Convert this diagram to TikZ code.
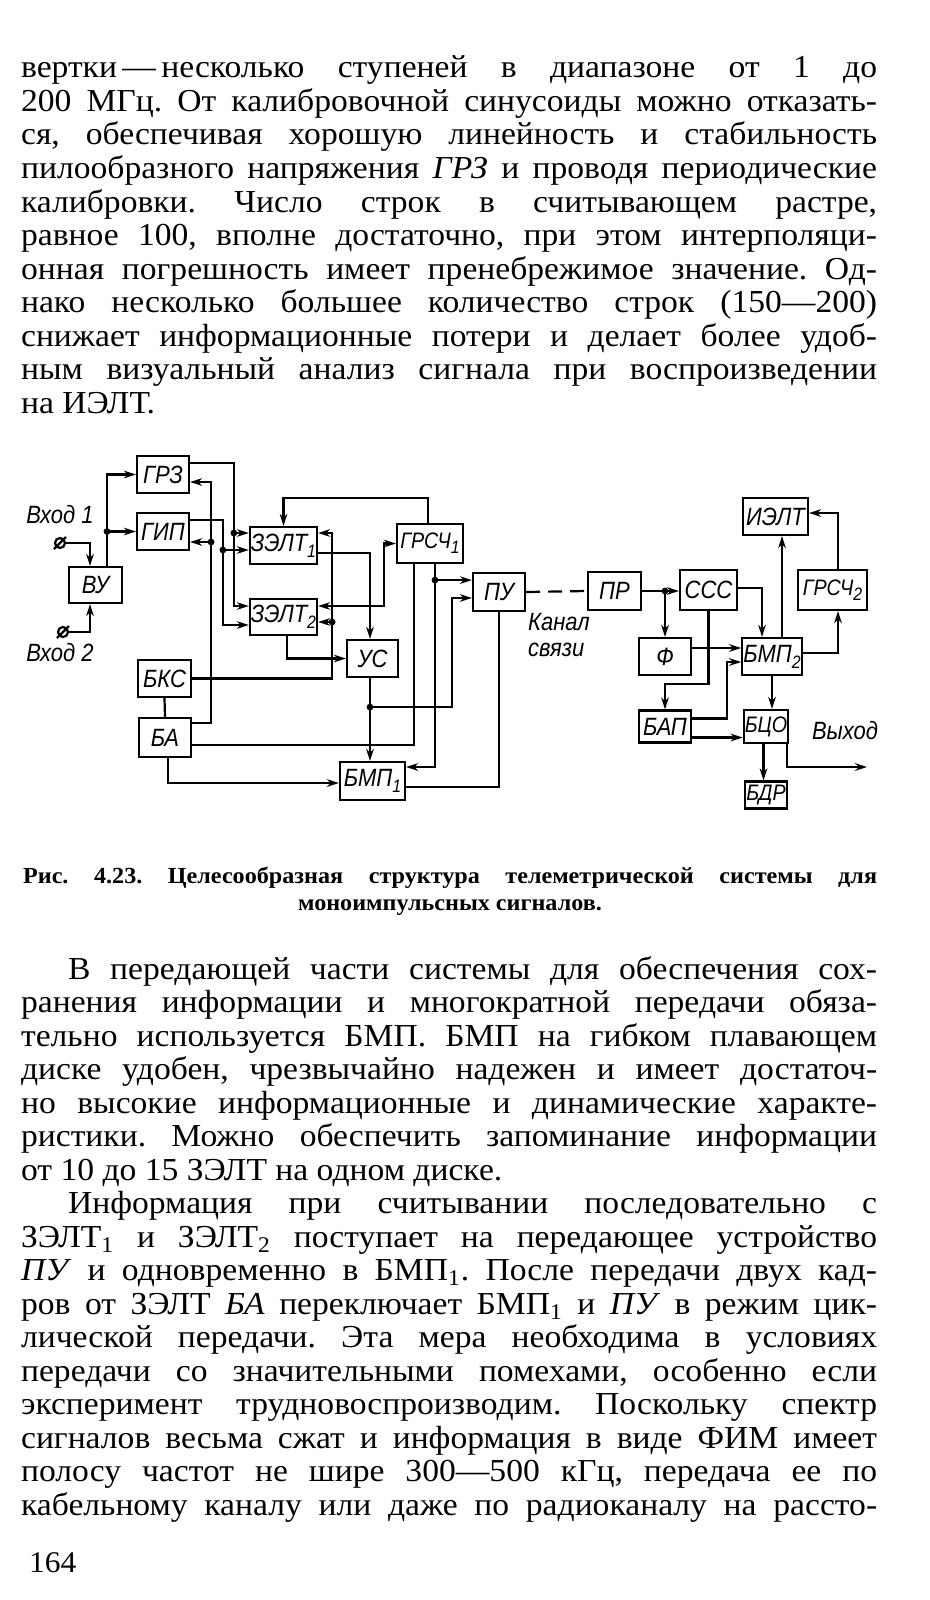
\documentclass[tikz,border=0pt]{standalone}
\usepackage{fontspec}
\setmainfont{Liberation Serif}[FakeStretch=1.05]
\newfontfamily\dfont[FakeStretch=0.88]{Liberation Sans}
\usetikzlibrary{arrows.meta,calc}
\frenchspacing
\newcommand{\tline}[1]{\makebox[428pt][s]{#1}}
\newcommand{\lowsub}[1]{\raisebox{-0.45ex}{\fontsize{9}{9}\selectfont #1}}
\tikzset{
  blk/.style={
    draw,
    line width=1.1pt,
    inner sep=0.5pt,
    minimum width=26pt,
    minimum height=18.5pt,
    font=\dfont\itshape\fontsize{12.5}{13}\selectfont
  },
  narrow blk/.style={
    blk,
    font=\dfont\itshape\fontsize{11.2}{12}\selectfont
  },
  lbl/.style={
    inner sep=0pt,
    font=\dfont\itshape\fontsize{12.5}{13}\selectfont
  },
  term/.style={
    circle,
    draw,
    line width=1.1pt,
    inner sep=0pt,
    minimum size=5pt
  },
  txt/.style={
    anchor=base west,
    inner sep=0pt,
    font=\fontsize{16}{18}\selectfont
  },
  captxt/.style={
    anchor=base west,
    inner sep=0pt,
    font=\bfseries\fontsize{11.5}{14}\selectfont
  }
}

\begin{document}
\begin{tikzpicture}[x=0.5pt, y=-0.5pt, line width=1.1pt,
  >={Stealth[length=6pt,width=3.8pt]}]
   \fill[white] (0,0) rectangle (930,1600);
   \useasboundingbox (0,0) rectangle (930,1600);

   % text above the figure
   \node[txt] (a1) at (20,78) {\tline{вертки\,—\,несколько ступеней в диапазоне от 1 до}};
   \node[txt] (a2) at (20,111.5) {\tline{200 МГц. От калибровочной синусоиды можно отказать-}};
   \node[txt] (a3) at (20,145) {\tline{ся, обеспечивая хорошую линейность и стабильность}};
   \node[txt] (a4) at (20,178.5) {\tline{пилообразного напряжения \textit{ГРЗ} и проводя периодические}};
   \node[txt] (a5) at (20,212) {\tline{калибровки. Число строк в считывающем растре,}};
   \node[txt] (a6) at (20,245.5) {\tline{равное 100, вполне достаточно, при этом интерполяци-}};
   \node[txt] (a7) at (20,279) {\tline{онная погрешность имеет пренебрежимое значение. Од-}};
   \node[txt] (a8) at (20,312.5) {\tline{нако несколько большее количество строк (150—200)}};
   \node[txt] (a9) at (20,346) {\tline{снижает информационные потери и делает более удоб-}};
   \node[txt] (a10) at (20,379.5) {\tline{ным визуальный анализ сигнала при воспроизведении}};
   \node[txt] (a11) at (20,413) {на ИЭЛТ.};

   % transmitting part
   \node[term] (in1) at (60,543) {};
   \node[term] (in2) at (63,632) {};
   \node[lbl] (lin1) at (60,515) {Вход 1};
   \node[lbl] (lin2) at (60,653) {Вход 2};
   \node[blk] (grz) at (163,474.5) {ГРЗ};
   \node[blk] (gip) at (163,531.5) {ГИП};
   \node[blk, minimum width=26.5pt, minimum height=18pt] (vu) at (95.5,585) {ВУ};
   \node[blk, minimum width=33.5pt] (zelt1) at (283.5,545.5) {ЗЭЛТ\lowsub{1}};
   \node[blk, minimum width=33.5pt, minimum height=18pt] (zelt2) at (283.5,617) {ЗЭЛТ\lowsub{2}};
   \node[narrow blk, minimum width=33pt, minimum height=19.5pt] (grsch1) at (430,543.5) {ГРСЧ\lowsub{1}};
   \node[blk, minimum height=19pt] (pu) at (499,592) {ПУ};
   \node[blk, minimum width=25.5pt] (us) at (372.5,658.5) {УС};
   \node[blk, minimum width=26.5pt] (bks) at (164.5,678.5) {БКС};
   \node[blk, minimum height=19.5pt] (ba) at (165,737.5) {БА};
   \node[blk, minimum width=32.5pt, minimum height=19pt] (bmp1) at (372.5,781) {БМП\lowsub{1}};

   % receiving part
   \node[blk, minimum width=26.5pt, minimum height=19pt] (pr) at (614.5,591) {ПР};
   \node[blk, minimum width=28.5pt, minimum height=20pt] (sss) at (708.5,590) {ССС};
   \node[blk, minimum width=32.5pt] (ielt) at (775.5,516.5) {ИЭЛТ};
   \node[narrow blk, minimum width=34.5pt, minimum height=20pt] (grsch2) at (832.5,590) {ГРСЧ\lowsub{2}};
   \node[blk] (f) at (665,656.5) {Ф};
   \node[blk, minimum width=25pt] (bmp2) at (772,656.5) {БМП\lowsub{2}};
   \node[blk, minimum height=16pt] (bap) at (665,726.5) {БАП};
   \node[narrow blk, minimum width=17.5pt, minimum height=16.5pt] (bco) at (766,726.5) {БЦО};
   \node[narrow blk, minimum width=17.5pt, minimum height=13.5pt] (bdr) at (766,795) {БДР};
   \node[lbl, align=left, anchor=north west] (kanal) at (527,612) {Канал\\связи};
   \node[lbl] (lout) at (845,731) {Выход};
   \coordinate (out) at (867,767);

   \foreach \t in {in1,in2}
      \draw ([shift={(-3pt,-3pt)}]\t.center) -- ([shift={(3pt,3pt)}]\t.center);
   \draw[->] (in1.east) -| ([xshift=-2.75pt]vu.north);
   \draw[->] (in2.east) -| ([xshift=-2.75pt]vu.south);

   \coordinate (vuo) at ([xshift=5.75pt]vu.north);
   \coordinate (j1) at (vuo |- gip.west);
   \draw[->] (vuo) |- (grz.west);
   \draw[->] (j1) -- (gip.west);

   \coordinate (d2) at ([xshift=-7.5pt,yshift=6.25pt]zelt1.west);
   \draw[->] ([yshift=5.75pt]grz.east) -| (d2) |- ([yshift=5.5pt]zelt2.west);
   \draw[->] (d2) -- ([yshift=6.25pt]zelt1.west);
   \coordinate (d3) at ([xshift=-13pt,yshift=-2.25pt]zelt1.west);
   \draw[->] ([yshift=5.75pt]gip.east) -| (d3) |- ([yshift=-4pt]zelt2.west);
   \draw[->] (d3) -- ([yshift=-2.25pt]zelt1.west);

   \coordinate (d4) at ([xshift=10.5pt,yshift=-5.25pt]gip.east);
   \draw[->] ([yshift=7.25pt]ba.east) -| (d4) |- ([yshift=-3.75pt]grz.east);
   \draw[->] (d4) -- ([yshift=-5.25pt]gip.east);
   \draw (bks.south) -- (ba.north);

   \coordinate (d5) at ([xshift=7pt,yshift=-2.5pt]zelt2.east);
   \draw[->] (bks.east) -| (d5) |- ([yshift=6.25pt]zelt1.east);
   \draw[->] (d5) -- ([yshift=-2.5pt]zelt2.east);

   \draw[->] ([xshift=-1pt]grsch1.north) -- ++(0,12.5pt) -| (zelt1.north);
   \draw[<->] ([yshift=5.5pt]zelt2.east) -- ++(33pt,0) |- (grsch1.west);
   \draw[->] ([yshift=-3.75pt]zelt1.east) -| ([xshift=-1.25pt]us.north);
   \draw[->] ([xshift=1.75pt]zelt2.south) |- (us.west);

   \coordinate (d6) at ([xshift=-1.25pt,yshift=-14.5pt]us.south);
   \draw[->] ([xshift=-1.25pt]us.south) -- ([xshift=-1.25pt]bmp1.north);
   \draw[->] (d6) -- ++(41pt,0) |- ([yshift=-3pt]pu.west);
   \coordinate (d7) at ([xshift=2.5pt,yshift=-8pt]grsch1.south);
   \draw[->] ([xshift=2.5pt]grsch1.south) |- ([yshift=7pt]bmp1.east);
   \draw[->] (d7) -- (d7 -| pu.west);
   \draw ([yshift=-3.75pt]ba.east) -| ([xshift=-8pt]grsch1.south);
   \draw (pu.south) |- ([yshift=-3pt]bmp1.east);
   \draw[->] ([xshift=1.5pt]ba.south) |- ([yshift=-1pt]bmp1.west);

   \draw[dash pattern=on 7pt off 4pt] (pu.east) -- (pr.west);

   \coordinate (d8) at (f.north |- pr.east);
   \draw[->] (pr.east) -- (pr.east -| sss.west);
   \draw[->] (d8) -- (f.north);
   \draw[->] ([yshift=1pt]sss.east) -| ([xshift=-5pt]bmp2.north);
   \draw[->] (sss.south) -- ++(0,-36.5pt) -| (bap.north);
   \draw[->] ([yshift=4.25pt]f.east) -- ([yshift=4.25pt]bmp2.west);
   \draw[->] ([yshift=4pt]bap.east) -- ++(17.5pt,0) |- ([yshift=-2.75pt]bmp2.west);
   \draw[->] ([yshift=-5.5pt]bap.east) -- ([yshift=-5.5pt]bco.west);
   \coordinate (m2) at ([xshift=5pt]bmp2.north);
   \draw[->] (m2) -- (m2 |- ielt.south);
   \draw[->] ([yshift=1.75pt]bmp2.east) -| ([xshift=2.75pt]grsch2.south);
   \draw[->] ([xshift=2.75pt]grsch2.north) |- ([yshift=1.75pt]ielt.east);
   \coordinate (m3) at (bmp2.south);
   \draw[->] (m3) -- (m3 |- bco.north);
   \draw[->] ([xshift=-1.25pt]bco.south) -- ([xshift=-1.25pt]bdr.north);
   \draw[->] ([xshift=-1pt]bco.south east) |- (out);

   \foreach \p in {j1,d2,d3,d4,d5,d6,d7,d8}
      \fill (\p) circle[radius=1.7pt];

   % caption
   \node[captxt] (c1) at (22,883) {\makebox[427pt][s]{Рис. 4.23. Целесообразная структура телеметрической системы для}};
   \node[captxt, anchor=base] (c2) at (450,910) {моноимпульсных сигналов.};

   % text below the figure
   \node[txt] (b1) at (20,979) {\tline{\hspace{23.5pt}В передающей части системы для обеспечения сох-}};
   \node[txt] (b2) at (20,1012.5) {\tline{ранения информации и многократной передачи обяза-}};
   \node[txt] (b3) at (20,1046) {\tline{тельно используется БМП. БМП на гибком плавающем}};
   \node[txt] (b4) at (20,1079.5) {\tline{диске удобен, чрезвычайно надежен и имеет достаточ-}};
   \node[txt] (b5) at (20,1113) {\tline{но высокие информационные и динамические характе-}};
   \node[txt] (b6) at (20,1146.5) {\tline{ристики. Можно обеспечить запоминание информации}};
   \node[txt] (b7) at (20,1180) {от 10 до 15 ЗЭЛТ на одном диске.};
   \node[txt] (b8) at (20,1213.5) {\tline{\hspace{23.5pt}Информация при считывании последовательно с}};
   \node[txt] (b9) at (20,1247) {\tline{ЗЭЛТ\textsubscript{1} и ЗЭЛТ\textsubscript{2} поступает на передающее устройство}};
   \node[txt] (b10) at (20,1280.5) {\tline{\textit{ПУ} и одновременно в БМП\textsubscript{1}. После передачи двух кад-}};
   \node[txt] (b11) at (20,1314) {\tline{ров от ЗЭЛТ \textit{БА} переключает БМП\textsubscript{1} и \textit{ПУ} в режим цик-}};
   \node[txt] (b12) at (20,1347.5) {\tline{лической передачи. Эта мера необходима в условиях}};
   \node[txt] (b13) at (20,1381) {\tline{передачи со значительными помехами, особенно если}};
   \node[txt] (b14) at (20,1414.5) {\tline{эксперимент трудновоспроизводим. Поскольку спектр}};
   \node[txt] (b15) at (20,1448) {\tline{сигналов весьма сжат и информация в виде ФИМ имеет}};
   \node[txt] (b16) at (20,1481.5) {\tline{полосу частот не шире 300—500 кГц, передача ее по}};
   \node[txt] (b17) at (20,1515) {\tline{кабельному каналу или даже по радиоканалу на рассто-}};
   \node[txt, font=\fontsize{15}{17}\selectfont] (pg) at (28,1572) {164};
\end{tikzpicture}
\end{document}
